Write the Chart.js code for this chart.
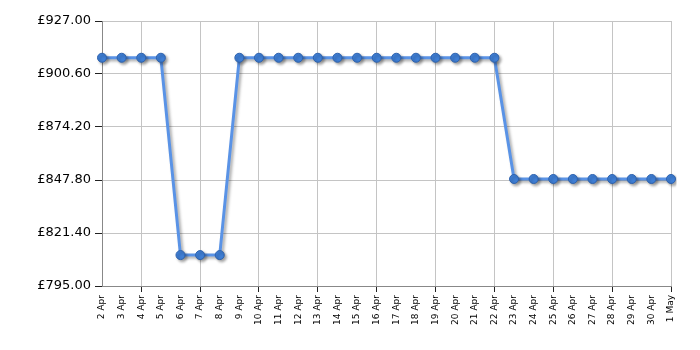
<!DOCTYPE html>
<html>
<head>
<meta charset="utf-8">
<script src="https://cdn.jsdelivr.net/npm/chart.js@4/dist/chart.umd.min.js"></script>
<style>
  html, body { margin: 0; padding: 0; background: #fff; }
  #wrap { width: 700px; height: 350px; }
</style>
</head>
<body>
<div id="wrap"><canvas id="priceChart" width="700" height="350"></canvas></div>
<script>
// データ
const dates = ["2 Apr","3 Apr","4 Apr","5 Apr","6 Apr","7 Apr","8 Apr","9 Apr","10 Apr","11 Apr",
  "12 Apr","13 Apr","14 Apr","15 Apr","16 Apr","17 Apr","18 Apr","19 Apr","20 Apr","21 Apr",
  "22 Apr","23 Apr","24 Apr","25 Apr","26 Apr","27 Apr","28 Apr","29 Apr","30 Apr","1 May"];
const prices = [908.7,908.7,908.7,908.7,810.4,810.4,810.4,908.7,908.7,908.7,
  908.7,908.7,908.7,908.7,908.7,908.7,908.7,908.7,908.7,908.7,
  908.7,848.3,848.3,848.3,848.3,848.3,848.3,848.3,848.3,848.3];
const yMin = 795.0;
const yMax = 927.0;
const yStep = 26.4;

// 縦グリッドは3日ごと (4 Apr から)
const showGrid = i => i > 0 && (i - 2) % 3 === 0;

// 線の影
const shadowPlugin = {
  id: "shadow",
  beforeDatasetsDraw(chart) {
    const ctx = chart.ctx;
    ctx.save();
    ctx.shadowColor = "rgba(0,0,0,0.35)";
    ctx.shadowBlur = 3;
    ctx.shadowOffsetX = 2;
    ctx.shadowOffsetY = 2;
  },
  afterDatasetsDraw(chart) {
    chart.ctx.restore();
  }
};

new Chart(document.getElementById("priceChart"), {
  type: "line",
  data: {
    labels: dates,
    datasets: [{
      data: prices,
      borderColor: "#5a93e6",
      borderWidth: 3,
      pointRadius: 4.5,
      pointBackgroundColor: "#3f7fd6",
      pointBorderColor: "#2e62ad",
      pointBorderWidth: 1,
      tension: 0
    }]
  },
  options: {
    responsive: false,
    animation: false,
    layout: { padding: { top: 21, right: 29, left: 0, bottom: 0 } },
    plugins: { legend: { display: false }, tooltip: { enabled: false } },
    scales: {
      x: {
        offset: false,
        grid: {
          color: ctx => showGrid(ctx.index) ? "#c4c4c4" : "rgba(0,0,0,0)",
          tickColor: ctx => showGrid(ctx.index) ? "#222" : "rgba(0,0,0,0)",
          tickLength: 6,
          lineWidth: 1
        },
        border: { color: "#888", width: 1 },
        ticks: {
          autoSkip: false,
          minRotation: 90,
          maxRotation: 90,
          padding: 3,
          color: "#000",
          font: { family: "DejaVu Sans", size: 9 }
        },
        afterFit: s => { s.height = 64; }
      },
      y: {
        min: yMin,
        max: yMax,
        grid: { color: "#c4c4c4", tickColor: "#222", tickLength: 7 },
        border: { color: "#888", width: 1 },
        ticks: {
          stepSize: yStep,
          padding: 4,
          color: "#000",
          font: { family: "DejaVu Sans", size: 13 },
          callback: v => "£" + Number(v).toFixed(2)
        },
        afterFit: s => { s.width = 102; }
      }
    }
  },
  plugins: [shadowPlugin]
});
</script>
</body>
</html>
